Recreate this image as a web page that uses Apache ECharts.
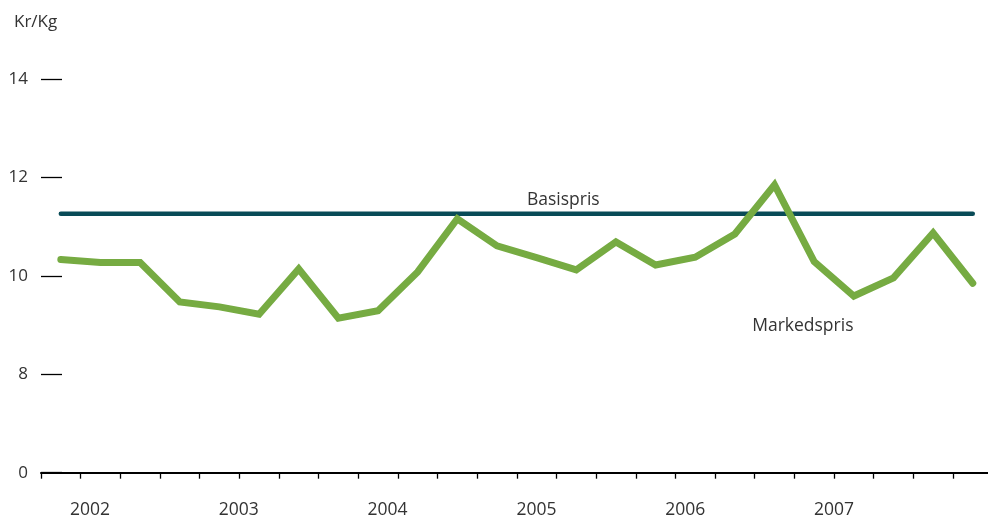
<!DOCTYPE html>
<html>
<head>
<meta charset="utf-8">
<script src="https://cdn.jsdelivr.net/npm/echarts@6/dist/echarts.min.js"></script>
<style>html,body{margin:0;padding:0;background:#fff;overflow:hidden}#c{width:995px;height:519px}</style>
</head>
<body>
<div id="c"></div>
<script>
// Quarterly categories 2002–2007
const quarters = ['2002 K1','2002 K2','2002 K3','2002 K4','2003 K1','2003 K2','2003 K3','2003 K4',
  '2004 K1','2004 K2','2004 K3','2004 K4','2005 K1','2005 K2','2005 K3','2005 K4',
  '2006 K1','2006 K2','2006 K3','2006 K4','2007 K1','2007 K2','2007 K3','2007 K4'];
const years = ['2002','2003','2004','2005','2006','2007'];
const markedspris = [10.33,10.27,10.27,9.47,9.37,9.22,10.14,9.14,9.29,10.08,11.16,10.61,
  10.37,10.12,10.69,10.22,10.38,10.85,11.85,10.29,9.59,9.96,10.87,9.85];
const basispris = [11.26,11.26,11.26,11.26,11.26,11.26,11.26,11.26,11.26,11.26,11.26,11.26,
  11.26,11.26,11.26,11.26,11.26,11.26,11.26,11.26,11.26,11.26,11.26,11.26];
const yTicks = {6:'0', 8:'8', 10:'10', 12:'12', 14:'14'}; // axis break: bottom tick shows 0

const FONT = '"Open Sans", sans-serif';
const TXT = '#333333';

function withLabel(arr, idx, text, offset) {
  return arr.map((v, i) => i === idx ? {
    value: v,
    label: { show: true, position: 'inside', offset: offset, formatter: text,
      fontFamily: FONT, fontSize: 17.5, color: TXT }
  } : v);
}

const chart = echarts.init(document.getElementById('c'));
chart.setOption({
  animation: false,
  backgroundColor: '#ffffff',
  textStyle: { fontFamily: FONT },
  title: { text: 'Kr/Kg', left: 9, top: 9,
    textStyle: { fontFamily: FONT, fontSize: 17, fontWeight: 'normal', color: TXT } },
  grid: [
    { left: 41, width: 951.6, top: 79, bottom: 46.3 },
    { left: 15.6, width: 892.8, top: 79, bottom: 46.3 }
  ],
  xAxis: [
    { type: 'category', gridIndex: 0, data: quarters, boundaryGap: true,
      axisLine: { lineStyle: { color: '#000', width: 2 } },
      axisTick: { show: true, interval: 0, length: 6, lineStyle: { color: '#000', width: 1.3 } },
      axisLabel: { show: false } },
    { type: 'category', gridIndex: 1, data: years, boundaryGap: true,
      axisLine: { show: false }, axisTick: { show: false },
      axisLabel: { fontFamily: FONT, fontSize: 17.5, color: TXT, margin: 30 } }
  ],
  yAxis: [
    { type: 'value', gridIndex: 0, min: 6, max: 14, interval: 2,
      axisLine: { show: false },
      axisTick: { show: true, inside: true, length: 21, lineStyle: { color: '#000', width: 1.3 } },
      splitLine: { show: false },
      axisLabel: { margin: 13, fontFamily: FONT, fontSize: 17, color: TXT,
        formatter: v => yTicks[v] !== undefined ? yTicks[v] : '' } },
    { type: 'value', gridIndex: 1, min: 6, max: 14, show: false }
  ],
  series: [
    { name: 'Basispris', type: 'line', xAxisIndex: 0, yAxisIndex: 0,
      data: withLabel(basispris, 13, 'Basispris', [-13, -14]),
      symbol: 'circle', symbolSize: 0, showSymbol: true,
      lineStyle: { color: '#094b57', width: 4.5, cap: 'round' },
      itemStyle: { color: '#094b57' }, z: 2 },
    { name: 'Markedspris', type: 'line', xAxisIndex: 0, yAxisIndex: 0,
      data: withLabel(markedspris, 20, 'Markedspris', [-51, 30]),
      symbol: 'circle', symbolSize: 0, showSymbol: true,
      lineStyle: { color: '#76ab42', width: 7, cap: 'round', join: 'miter' },
      itemStyle: { color: '#76ab42' }, z: 3 }
  ]
});
</script>
</body>
</html>
